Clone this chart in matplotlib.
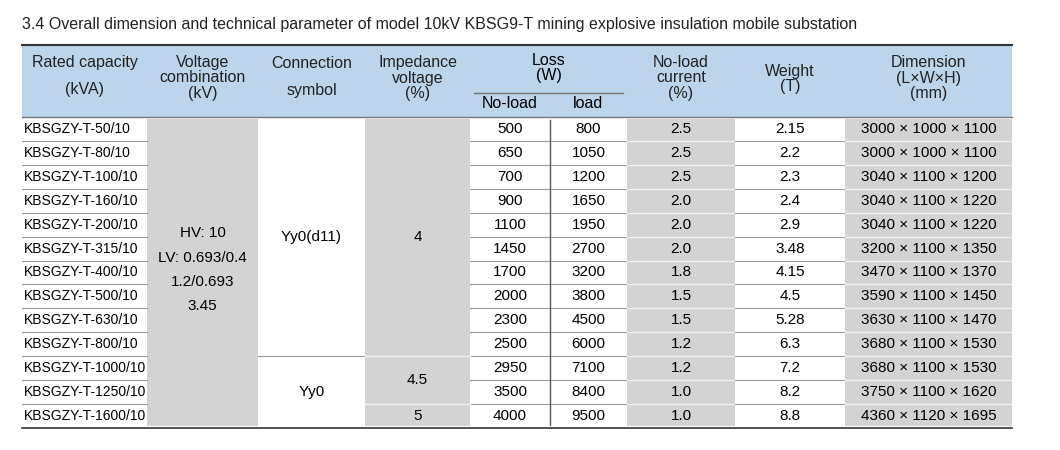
import matplotlib
matplotlib.use("Agg")
import matplotlib.pyplot as plt
from matplotlib.patches import Rectangle
from matplotlib import font_manager

title = "3.4 Overall dimension and technical parameter of model 10kV KBSG9-T mining explosive insulation mobile substation"
models = ["KBSGZY-T-50/10", "KBSGZY-T-80/10", "KBSGZY-T-100/10", "KBSGZY-T-160/10", "KBSGZY-T-200/10",
          "KBSGZY-T-315/10", "KBSGZY-T-400/10", "KBSGZY-T-500/10", "KBSGZY-T-630/10", "KBSGZY-T-800/10",
          "KBSGZY-T-1000/10", "KBSGZY-T-1250/10", "KBSGZY-T-1600/10"]
noload_loss = [500, 650, 700, 900, 1100, 1450, 1700, 2000, 2300, 2500, 2950, 3500, 4000]
load_loss = [800, 1050, 1200, 1650, 1950, 2700, 3200, 3800, 4500, 6000, 7100, 8400, 9500]
noload_current = ["2.5", "2.5", "2.5", "2.0", "2.0", "2.0", "1.8", "1.5", "1.5", "1.2", "1.2", "1.0", "1.0"]
weight = ["2.15", "2.2", "2.3", "2.4", "2.9", "3.48", "4.15", "4.5", "5.28", "6.3", "7.2", "8.2", "8.8"]
dimension = ["3000 × 1000 × 1100", "3000 × 1000 × 1100", "3040 × 1100 × 1200", "3040 × 1100 × 1220",
             "3040 × 1100 × 1220", "3200 × 1100 × 1350", "3470 × 1100 × 1370", "3590 × 1100 × 1450",
             "3630 × 1100 × 1470", "3680 × 1100 × 1530", "3680 × 1100 × 1530", "3750 × 1100 × 1620",
             "4360 × 1120 × 1695"]
voltage_text = ["HV: 10", "LV: 0.693/0.4", "1.2/0.693", "3.45"]
connection_groups = [("Yy0(d11)", 0, 10), ("Yy0", 10, 13)]
impedance_groups = [("4", 0, 10), ("4.5", 10, 12), ("5", 12, 13)]

names = {f.name for f in font_manager.fontManager.ttflist}
main_font = "Liberation Sans" if "Liberation Sans" in names else "DejaVu Sans"
narrow_font = "Liberation Sans Narrow" if "Liberation Sans Narrow" in names else main_font

fig = plt.figure(figsize=(10.6, 4.5), dpi=100)
ax = fig.add_axes([0, 0, 1, 1])
ax.set_xlim(0, 1060); ax.set_ylim(450, 0); ax.axis("off")

cols = [22, 147, 258, 365, 470, 550, 627, 735, 845, 1012]
htop, hbot = 45, 117
rh = (428 - hbot) / len(models)
gray = "#d3d3d3"; blue = "#bcd5ea"; line = "#9a9a9a"
fs = 11
hfs = 11.5

ax.text(22, 24, title, fontsize=11.5, family=main_font, va="center", ha="left", color="#222")
ax.add_patch(Rectangle((cols[0], htop), cols[-1] - cols[0], hbot - htop, color=blue, lw=0))
ax.plot([cols[0], cols[-1]], [htop, htop], color="#333", lw=1.5)
ax.plot([cols[0], cols[-1]], [hbot, hbot], color="#777", lw=1)
ax.plot([cols[0], cols[-1]], [428, 428], color="#444", lw=1.3)
ax.plot([cols[4] + 4, cols[6] - 4], [93, 93], color="#777", lw=1)

hdr = [("Rated capacity\n\n(kVA)", 0, 1, 76, 0.9), ("Voltage\ncombination\n(kV)", 1, 2, 78, 1.05),
       ("Connection\n\nsymbol", 2, 3, 77, 0.9), ("Impedance\nvoltage\n(%)", 3, 4, 78, 1.05),
       ("No-load\ncurrent\n(%)", 6, 7, 78, 1.05), ("Weight\n(T)", 7, 8, 79, 1.05),
       ("Dimension\n(L×W×H)\n(mm)", 8, 9, 78, 1.05)]
for t, a, b, y, ls in hdr:
    ax.text((cols[a] + cols[b]) / 2, y, t, fontsize=hfs, family=main_font, ha="center", va="center",
            linespacing=ls, color="#222")
ax.text((cols[4] + cols[6]) / 2, 68, "Loss\n(W)", fontsize=hfs, family=main_font, ha="center", va="center", linespacing=1.05)
ax.text((cols[4] + cols[5]) / 2, 104, "No-load", fontsize=hfs, family=main_font, ha="center", va="center")
ax.text((cols[5] + cols[6]) / 2, 104, "load", fontsize=hfs, family=main_font, ha="center", va="center")

n = len(models)
for ci in (1, 3, 6, 8):
    ax.add_patch(Rectangle((cols[ci], hbot + 2), cols[ci + 1] - cols[ci], 428 - hbot - 4, color=gray, lw=0))

for i in range(n):
    yc = hbot + (i + 0.5) * rh
    ax.text(cols[0] + 2, yc, models[i], fontsize=10, family=narrow_font, ha="left", va="center")
    ax.text((cols[4] + cols[5]) / 2, yc, str(noload_loss[i]), fontsize=fs, family=main_font, ha="center", va="center")
    ax.text((cols[5] + cols[6]) / 2, yc, str(load_loss[i]), fontsize=fs, family=main_font, ha="center", va="center")
    ax.text((cols[6] + cols[7]) / 2, yc, noload_current[i], fontsize=fs, family=main_font, ha="center", va="center")
    ax.text((cols[7] + cols[8]) / 2, yc, weight[i], fontsize=fs, family=main_font, ha="center", va="center")
    ax.text((cols[8] + cols[9]) / 2, yc, dimension[i], fontsize=fs, family=main_font, ha="center", va="center")
    if i < n - 1:
        yl = hbot + (i + 1) * rh
        ax.plot([cols[0], cols[1]], [yl, yl], color=line, lw=0.8)
        ax.plot([cols[4], cols[6]], [yl, yl], color=line, lw=0.8)
        ax.plot([cols[6], cols[7]], [yl, yl], color="#f0f0f0", lw=1)
        ax.plot([cols[7], cols[8]], [yl, yl], color=line, lw=0.8)
        ax.plot([cols[8], cols[9]], [yl, yl], color="#f0f0f0", lw=1)
ax.plot([cols[5], cols[5]], [hbot + 3, 428 - 3], color="#555", lw=1)

for k, t in enumerate(voltage_text):
    ax.text((cols[1] + cols[2]) / 2, 233 + k * 24.5, t, fontsize=fs, family=main_font, ha="center", va="center")
for t, a, b in connection_groups:
    ax.text((cols[2] + cols[3]) / 2, hbot + (a + b) / 2 * rh, t, fontsize=fs, family=main_font, ha="center", va="center")
    if a > 0:
        ax.plot([cols[2], cols[3]], [hbot + a * rh] * 2, color=line, lw=0.8)
for t, a, b in impedance_groups:
    ax.text((cols[3] + cols[4]) / 2, hbot + (a + b) / 2 * rh, t, fontsize=fs, family=main_font, ha="center", va="center")
    if a > 0:
        ax.plot([cols[3], cols[4]], [hbot + a * rh] * 2, color="#f0f0f0", lw=1)

fig.savefig("out.png", dpi=100)
